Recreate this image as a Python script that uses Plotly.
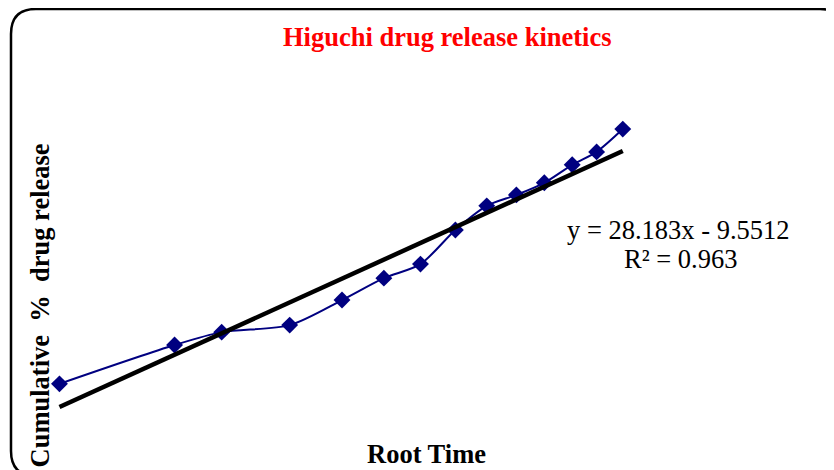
import plotly.graph_objects as go

# ---- data ----
ROOT_TIME = [0.38, 1.04, 1.31, 1.70, 2.00, 2.24, 2.45, 2.65, 2.83, 3.00, 3.16, 3.32, 3.46, 3.61]
CUM_RELEASE = [9.4, 23.2, 27.8, 30.3, 39.2, 47.0, 52.0, 64.1, 72.7, 76.6, 80.9, 87.3, 91.9, 100.0]
TREND_SLOPE = 28.183
TREND_INTERCEPT = -9.5512
R_SQUARED = 0.963

TITLE = "Higuchi drug release kinetics"
X_TITLE = "Root Time"
Y_TITLE = "Cumulative  %  drug release"

# ---- layout geometry ----
W, H = 834, 470
OFF = 8  # the page body margin shifts the figure by this many pixels
ML, MR, MT, MB = 22, 100, 12, 30
PW, PH = W - ML - MR, H - MT - MB


def px(x):
    """page pixel x -> paper coordinate"""
    return (x - OFF - ML) / PW


def py(y):
    """page pixel y -> paper coordinate"""
    return (H - MB - (y - OFF)) / PH


SERIF = "Liberation Serif, Times New Roman, serif"
FS = 26.5

trend_x = [ROOT_TIME[0], ROOT_TIME[-1]]
trend_y = [TREND_SLOPE * v + TREND_INTERCEPT for v in trend_x]

fig = go.Figure()
fig.add_trace(go.Scatter(
    x=ROOT_TIME, y=CUM_RELEASE, mode="lines+markers",
    line=dict(color="#000080", width=2, shape="spline", smoothing=0.8),
    marker=dict(symbol="diamond", size=13, color="#000080"),
    showlegend=False, hoverinfo="x+y",
))
fig.add_trace(go.Scatter(
    x=trend_x, y=trend_y, mode="lines",
    line=dict(color="black", width=4.5),
    showlegend=False, hoverinfo="skip",
))

# rounded border (extends past right and bottom edge, as in the reference)
l, t, r, b, rad = 11, 9, 845, 476, 25
path = (
    f"M {px(l)},{py(t + rad)} "
    f"Q {px(l)},{py(t)} {px(l + rad)},{py(t)} "
    f"L {px(r - rad)},{py(t)} "
    f"Q {px(r)},{py(t)} {px(r)},{py(t + rad)} "
    f"L {px(r)},{py(b - rad)} "
    f"Q {px(r)},{py(b)} {px(r - rad)},{py(b)} "
    f"L {px(l + rad)},{py(b)} "
    f"Q {px(l)},{py(b)} {px(l)},{py(b - rad)} Z"
)
fig.add_shape(type="path", xref="paper", yref="paper", path=path,
              line=dict(color="black", width=2.5), layer="below")

eq_text = f"y = {TREND_SLOPE}x - {abs(TREND_INTERCEPT)}"
r2_text = f"R² = {R_SQUARED}"

annotations = [
    dict(text=f"<b>{TITLE}</b>", x=px(447.5), y=py(37), xref="paper", yref="paper",
         xanchor="center", yanchor="middle", showarrow=False,
         font=dict(family=SERIF, size=FS, color="#FF0000")),
    dict(text=f"<b>{X_TITLE}</b>", x=px(426), y=py(454), xref="paper", yref="paper",
         xanchor="center", yanchor="middle", showarrow=False,
         font=dict(family=SERIF, size=FS, color="black")),
    dict(text=f"<b>{Y_TITLE}</b>", x=px(39), y=py(305.5), xref="paper", yref="paper",
         xanchor="center", yanchor="middle", textangle=-90, showarrow=False,
         font=dict(family=SERIF, size=FS, color="black")),
    dict(text=eq_text, x=px(678.5), y=py(230), xref="paper", yref="paper",
         xanchor="center", yanchor="middle", showarrow=False,
         font=dict(family=SERIF, size=FS, color="black")),
    dict(text=r2_text, x=px(680), y=py(259), xref="paper", yref="paper",
         xanchor="center", yanchor="middle", showarrow=False,
         font=dict(family=SERIF, size=FS, color="black")),
]

# axis ranges chosen so data sits where it does in the reference (page pixels)
x_scale, x_origin = 174.4, -6.8      # px per unit, page px at x=0
y_scale, y_origin = 2.812, 410.3     # px per unit, page px at y=0
left_px, right_px = ML + OFF, W - MR + OFF
top_px, bottom_px = MT + OFF, H - MB + OFF
x_range = [(left_px - x_origin) / x_scale, (right_px - x_origin) / x_scale]
y_range = [(y_origin - bottom_px) / y_scale, (y_origin - top_px) / y_scale]

axis_common = dict(showgrid=False, zeroline=False, showticklabels=False,
                   showline=False, ticks="")
fig.update_layout(
    width=W, height=H, autosize=False,
    margin=dict(l=ML, r=MR, t=MT, b=MB, pad=0),
    paper_bgcolor="white", plot_bgcolor="white",
    xaxis=dict(range=x_range, **axis_common),
    yaxis=dict(range=y_range, **axis_common),
    annotations=annotations,
    showlegend=False,
)

fig.write_html("out.html")
